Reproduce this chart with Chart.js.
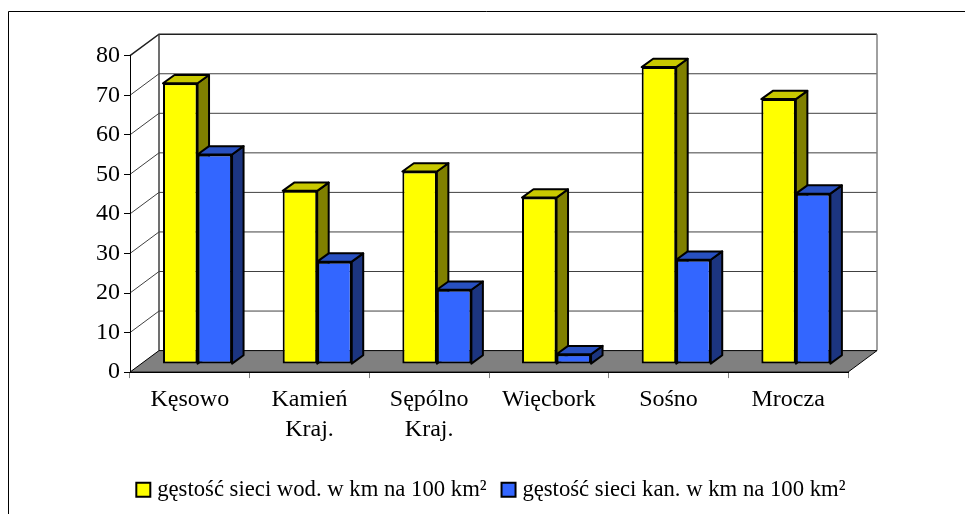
<!DOCTYPE html>
<html>
<head>
<meta charset="utf-8">
<style>
  html, body { margin: 0; padding: 0; background: #fff; overflow: hidden; }
  canvas { display: block; }
</style>
<script src="https://cdn.jsdelivr.net/npm/chart.js@4"></script>
</head>
<body>
<canvas id="grafico" width="965" height="514"></canvas>
<script>
const gminy = ['Kęsowo', ['Kamień', 'Kraj.'], ['Sępólno', 'Kraj.'], 'Więcbork', 'Sośno', 'Mrocza']
const siecWod = [71, 43.8, 48.7, 42.1, 75.1, 67]
const siecKan = [53, 25.9, 18.8, 2.5, 26.4, 43.1]
const nazwaWod = 'gęstość sieci wod. w km na 100 km²'
const nazwaKan = 'gęstość sieci kan. w km na 100 km²'
const FONT = '"Liberation Serif", "Times New Roman", serif'

// glebokosc "3D" sciany i slupkow, w pikselach
const SCIANA = { dx: 29, dy: 21.5 }
const SLUPEK = { dx: 11.5, dy: 8.3 }
const PRZESUN = { dx: 7.7, dy: 8 }

function wielokat(ctx, punkty, kolor) {
  ctx.beginPath()
  punkty.forEach((p, i) => i ? ctx.lineTo(p[0], p[1]) : ctx.moveTo(p[0], p[1]))
  ctx.closePath()
  ctx.fillStyle = kolor
  ctx.fill()
  ctx.lineWidth = 2
  ctx.strokeStyle = '#000'
  ctx.lineJoin = 'round'
  ctx.stroke()
}

const tlo3d = {
  id: 'tlo3d',
  beforeDraw(chart) {
    const { ctx, chartArea: a, scales: { y } } = chart
    ctx.save()
    // ramka wykresu: tylko lewa i gorna krawedz
    ctx.strokeStyle = '#000'
    ctx.lineWidth = 1
    ctx.beginPath()
    ctx.moveTo(8.5, 514)
    ctx.lineTo(8.5, 11.5)
    ctx.lineTo(965, 11.5)
    ctx.stroke()

    // linie siatki na scianach
    y.ticks.forEach(t => {
      if (t.value === 0) return
      const py = y.getPixelForValue(t.value)
      ctx.strokeStyle = t.value === 80 ? '#202020' : '#404040'
      ctx.lineWidth = t.value === 80 ? 1.5 : 1
      ctx.beginPath()
      ctx.moveTo(a.left, py)
      ctx.lineTo(a.left + SCIANA.dx, py - SCIANA.dy)
      ctx.lineTo(a.right + SCIANA.dx, py - SCIANA.dy)
      ctx.stroke()
    })

    // sciana lewa i prawa
    ctx.strokeStyle = '#404040'
    ctx.lineWidth = 1.5
    ctx.beginPath()
    ctx.moveTo(a.left + SCIANA.dx, a.bottom - SCIANA.dy)
    ctx.lineTo(a.left + SCIANA.dx, a.top - SCIANA.dy)
    ctx.stroke()
    ctx.strokeStyle = '#808080'
    ctx.beginPath()
    ctx.moveTo(a.right + SCIANA.dx, a.bottom - SCIANA.dy)
    ctx.lineTo(a.right + SCIANA.dx, a.top - SCIANA.dy)
    ctx.stroke()

    // podloga
    ctx.fillStyle = '#808080'
    ctx.beginPath()
    ctx.moveTo(a.left, a.bottom)
    ctx.lineTo(a.right, a.bottom)
    ctx.lineTo(a.right + SCIANA.dx, a.bottom - SCIANA.dy)
    ctx.lineTo(a.left + SCIANA.dx, a.bottom - SCIANA.dy)
    ctx.closePath()
    ctx.fill()
    ctx.strokeStyle = '#000'
    ctx.lineWidth = 1
    ctx.stroke()
    ctx.restore()
  },
  // slupki od lewej do prawej, bo bok zoltego ma byc przykryty przez niebieski
  beforeDatasetsDraw(chart) {
    const { ctx } = chart
    chart.data.datasets.forEach((ds, i) => {
      const meta = chart.getDatasetMeta(i)
      ctx.save()
      ctx.translate(PRZESUN.dx, -PRZESUN.dy)
      meta.data.forEach(bar => {
        const l = bar.x - bar.width / 2
        const r = bar.x + bar.width / 2
        const t = bar.y
        const b = bar.base
        wielokat(ctx, [[r, t], [r + SLUPEK.dx, t - SLUPEK.dy], [r + SLUPEK.dx, b - SLUPEK.dy], [r, b]], ds.kolorBok)
        wielokat(ctx, [[l, t], [r, t], [r + SLUPEK.dx, t - SLUPEK.dy], [l + SLUPEK.dx, t - SLUPEK.dy]], ds.kolorGora)
      })
      meta.controller.draw()
      ctx.restore()
    })
  },
  beforeDatasetDraw() {
    return false
  }
}

new Chart(document.getElementById('grafico'), {
  type: 'bar',
  plugins: [tlo3d],
  data: {
    labels: gminy,
    datasets: [
      {
        label: nazwaWod,
        data: siecWod,
        backgroundColor: '#FFFF00',
        kolorGora: '#C8C800',
        kolorBok: '#808000',
        borderColor: '#000',
        borderWidth: 2,
        borderSkipped: false
      },
      {
        label: nazwaKan,
        data: siecKan,
        backgroundColor: '#3366FF',
        kolorGora: '#2850C0',
        kolorBok: '#1C3580',
        borderColor: '#000',
        borderWidth: 2,
        borderSkipped: false
      }
    ]
  },
  options: {
    responsive: false,
    animation: false,
    layout: { padding: { left: 21.3, top: 55.7, right: 0, bottom: 3 } },
    categoryPercentage: 0.577,
    barPercentage: 1,
    plugins: {
      tooltip: { enabled: false },
      legend: {
        position: 'bottom',
        labels: {
          color: '#000',
          usePointStyle: true,
          pointStyle: 'rect',
          boxWidth: 5,
          boxHeight: 14,
          padding: 19.45,
          font: { family: FONT, size: 22.7 }
        }
      }
    },
    scales: {
      x: {
        afterFit(s) { s.height = 86.75 },
        grid: { drawOnChartArea: false, tickLength: 6, color: '#808080' },
        border: { color: '#000', width: 1 },
        ticks: { color: '#000', maxRotation: 0, padding: 6.5, font: { family: FONT, size: 24, lineHeight: 1.25 } }
      },
      y: {
        min: 0,
        max: 80,
        afterFit(s) { s.width = 108.7 },
        grid: { drawOnChartArea: false, tickLength: 6, color: '#000' },
        border: { color: '#000', width: 1 },
        ticks: { stepSize: 10, color: '#000', padding: 4, font: { family: FONT, size: 24 } }
      },
      // pusta os po prawej: trzyma margines, a legenda ma cala szerokosc
      margines: {
        position: 'right',
        afterFit(s) { s.width = 117 },
        grid: { display: false },
        border: { display: false },
        ticks: { display: false }
      }
    }
  }
})
</script>
</body>
</html>
